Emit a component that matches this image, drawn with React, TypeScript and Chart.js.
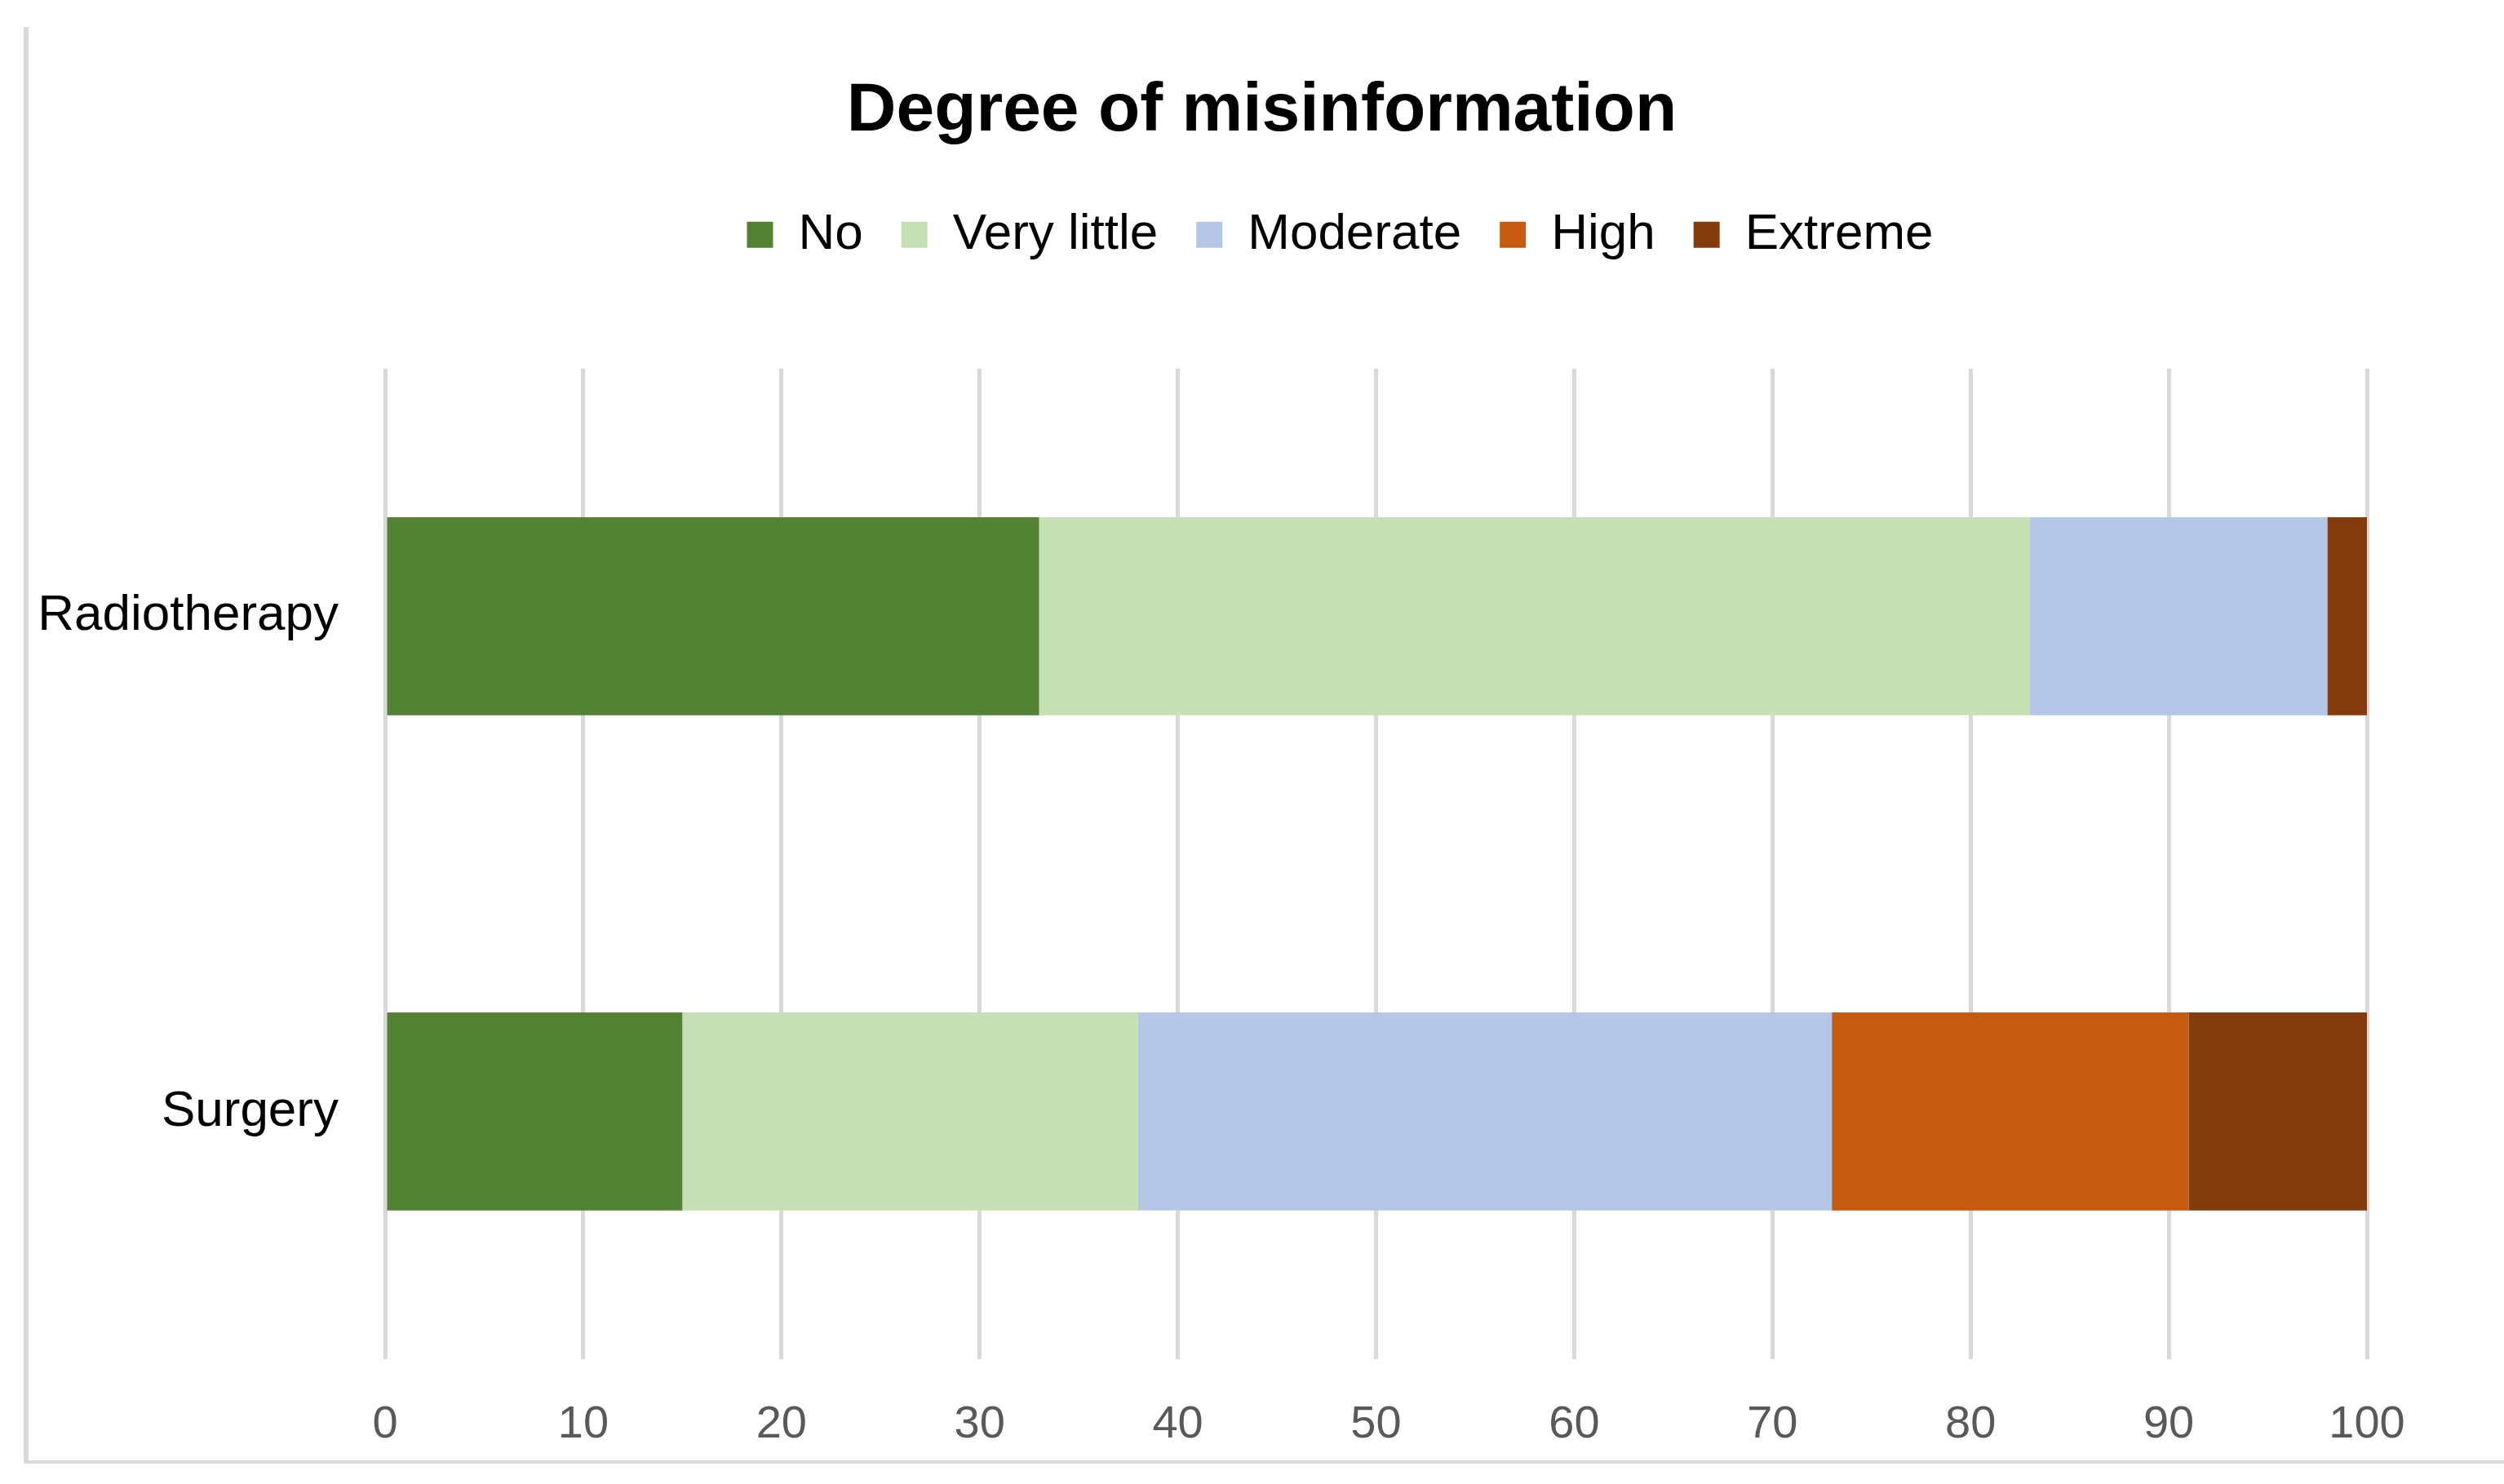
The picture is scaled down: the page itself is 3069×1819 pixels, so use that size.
import React, { useEffect, useRef } from "react";
import { Chart, registerables } from "chart.js";

Chart.register(...registerables);

const categories = ["Radiotherapy", "Surgery"];
const seriesNames = ["No", "Very little", "Moderate", "High", "Extreme"];
const noValues = [33, 15];
const veryLittleValues = [50, 23];
const moderateValues = [15, 35];
const highValues = [0, 18];
const extremeValues = [2, 9];
const xMin = 0;
const xMax = 100;
const xStep = 10;
const chartTitle = "Degree of misinformation";

const seriesColors = ["#548235", "#C5E0B4", "#B4C7E7", "#C55A11", "#843C0C"];

const W = 3069;
const H = 1819;
const FONT = "'Liberation Sans', Arial, sans-serif";

export default function App() {
  const ref = useRef<HTMLCanvasElement | null>(null);

  useEffect(() => {
    if (!ref.current) return;
    const seriesValues = [noValues, veryLittleValues, moderateValues, highValues, extremeValues];
    const boxShift = {
      id: "boxShift",
      afterLayout(chart: any) {
        const l = chart.legend;
        if (l) {
          l.left += 108;
          l.right += 108;
        }
        const t = chart.titleBlock;
        if (t) {
          t.left += 12;
          t.right += 12;
        }
      },
    };
    const chart = new Chart(ref.current, {
      type: "bar",
      data: {
        labels: categories,
        datasets: seriesNames.map((name, i) => ({
          label: name,
          data: seriesValues[i],
          backgroundColor: seriesColors[i],
          borderWidth: 0,
          categoryPercentage: 1,
          barPercentage: 0.4,
          xAxisID: "x",
          yAxisID: "y",
        })),
      },
      options: {
        indexAxis: "y",
        responsive: false,
        animation: false,
        layout: { padding: 0 },
        font: { family: FONT },
        scales: {
          x: {
            type: "linear",
            position: "bottom",
            stacked: true,
            min: xMin,
            max: xMax,
            ticks: {
              stepSize: xStep,
              padding: 47,
              color: "#595959",
              font: { family: FONT, size: 56 },
            },
            grid: { color: "#D9D9D9", lineWidth: 5, drawTicks: false },
            border: { display: false },
            afterFit: (s: any) => {
              s.height = 153;
            },
          },
          xTop: {
            type: "linear",
            position: "top",
            display: true,
            ticks: { display: false },
            grid: { display: false, drawTicks: false },
            border: { display: false },
            afterFit: (s: any) => {
              s.height = 123;
            },
          },
          y: {
            type: "category",
            position: "left",
            stacked: true,
            ticks: {
              padding: 57,
              color: "#000000",
              font: { family: FONT, size: 62 },
            },
            grid: { display: false, drawTicks: false },
            border: { display: false },
            afterFit: (s: any) => {
              s.width = 472;
            },
          },
          yRight: {
            type: "linear",
            position: "right",
            display: true,
            ticks: { display: false },
            grid: { display: false, drawTicks: false },
            border: { display: false },
            afterFit: (s: any) => {
              s.width = 168;
            },
          },
        },
        plugins: {
          title: {
            display: true,
            text: chartTitle,
            color: "#000000",
            font: { family: FONT, size: 84, weight: "bold" },
            padding: { top: 86, bottom: 23 },
          },
          legend: {
            display: true,
            position: "top",
            labels: {
              boxWidth: 32,
              boxHeight: 32,
              padding: 47,
              color: "#000000",
              font: { family: FONT, size: 62 },
            },
          },
          tooltip: { enabled: false },
        },
      },
      plugins: [boxShift],
    } as any);
    return () => chart.destroy();
  }, []);

  return (
    <div style={{ position: "absolute", left: 0, top: 0, width: W, height: H, background: "#fff", overflow: "hidden" }}>
      <div
        style={{
          position: "absolute",
          left: 29,
          top: 33,
          width: W - 29,
          height: 1794 - 33,
          boxSizing: "border-box",
          borderLeft: "6px solid #D9D9D9",
          borderBottom: "4px solid #D9D9D9",
        }}
      />
      <canvas ref={ref} width={W} height={H} style={{ position: "absolute", left: 0, top: 0, width: W, height: H }} />
    </div>
  );
}
